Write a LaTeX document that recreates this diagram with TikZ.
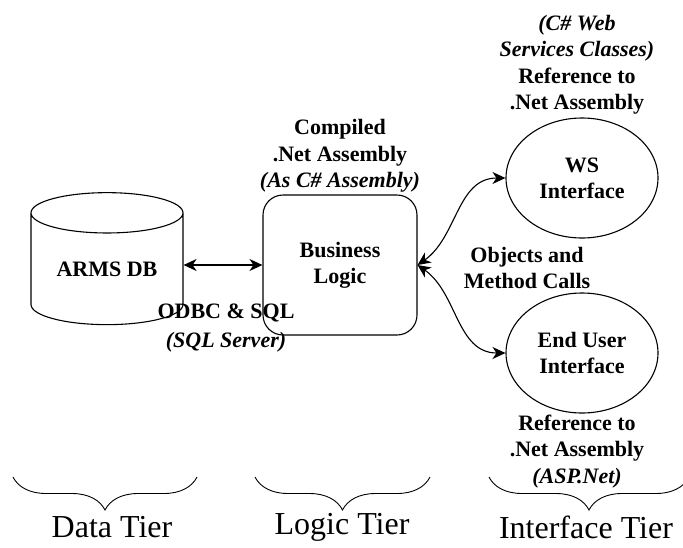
\documentclass[tikz,border=0pt]{standalone}
\usepackage{fontspec}
\setmainfont{Liberation Serif}
\usepackage{tikz}
\usetikzlibrary{shapes.geometric, arrows.meta, positioning, decorations.pathreplacing}
\definecolor{InkBlack}{HTML}{000000}
\newcommand{\lbl}[1]{\textbf{#1}}
\newcommand{\lbli}[1]{\textbf{\textit{#1}}}
\tikzset{
    tierbox/.style={draw=InkBlack, line width=1.1pt, align=center,
                    font=\fontsize{22}{26}\selectfont\bfseries},
    caption/.style={align=center, font=\fontsize{22}{26.5}\selectfont, inner sep=1pt},
    link/.style={line width=1.1pt, {Stealth[length=13pt,width=12pt,inset=4pt]}-{Stealth[length=13pt,width=12pt,inset=4pt]}},
    tierbrace/.style={decorate, decoration={brace, mirror, amplitude=33pt, aspect=0.5}, line width=0.9pt},
    tiername/.style={font=\fontsize{32}{35}\selectfont, inner sep=0pt}
}

\begin{document}
\begin{tikzpicture}[x=1pt, y=-1pt]
    \useasboundingbox (0,0) rectangle (683,547);

    \node[tierbox, cylinder, shape border rotate=90, aspect=0.4,
          minimum width=152pt, minimum height=132pt, inner sep=0pt] (db) at (107,269) {ARMS DB};
    \node[tierbox, rectangle, rounded corners=20pt,
          minimum width=154pt, minimum height=140pt] (logic) at (340,265) {Business\\Logic};
    \node[tierbox, ellipse, minimum width=152pt, minimum height=120pt, inner sep=0pt] (ws) at (582,178) {WS\\Interface};
    \node[tierbox, ellipse, minimum width=152pt, minimum height=120pt, inner sep=0pt] (eui) at (582,353) {End User\\Interface};

    \draw[link] (db.east |- logic.west) -- (logic.west);
    \draw[link] (logic.east) to[out=35, in=180] (ws.west);
    \draw[link] (logic.east) to[out=-35, in=180] (eui.west);

    \node[caption, above=1pt of logic] (compiled) {\lbl{Compiled}\\\lbl{.Net Assembly}\\\lbli{(As C\# Assembly)}};
    \node[caption, font=\fontsize{22}{28.5}\selectfont] (odbc) at (226,328) {\lbl{ODBC \& SQL}\\\lbli{(SQL Server)}};
    \node[caption, above=2pt of ws, xshift=-5pt] (wsref) {\lbli{(C\# Web}\\\lbli{Services Classes)}\\\lbl{Reference to}\\\lbl{.Net Assembly}};
    \node[caption] (calls) at (527,268) {\lbl{Objects and}\\\lbl{Method Calls}};
    \node[caption, below=0pt of eui, xshift=-5pt] (euiref) {\lbl{Reference to}\\\lbl{.Net Assembly}\\\lbli{(ASP.Net)}};

    \draw[tierbrace] (13,477) -- (197,477);
    \draw[tierbrace] (255,477) -- (430,477);
    \draw[tierbrace] (489,477) -- (689,477);

    \node[tiername] (datatier) at (112,527) {Data Tier};
    \node[tiername] (logictier) at (342,527) {Logic Tier};
    \node[tiername] (uitier) at (586,527) {Interface Tier};
\end{tikzpicture}
\end{document}
